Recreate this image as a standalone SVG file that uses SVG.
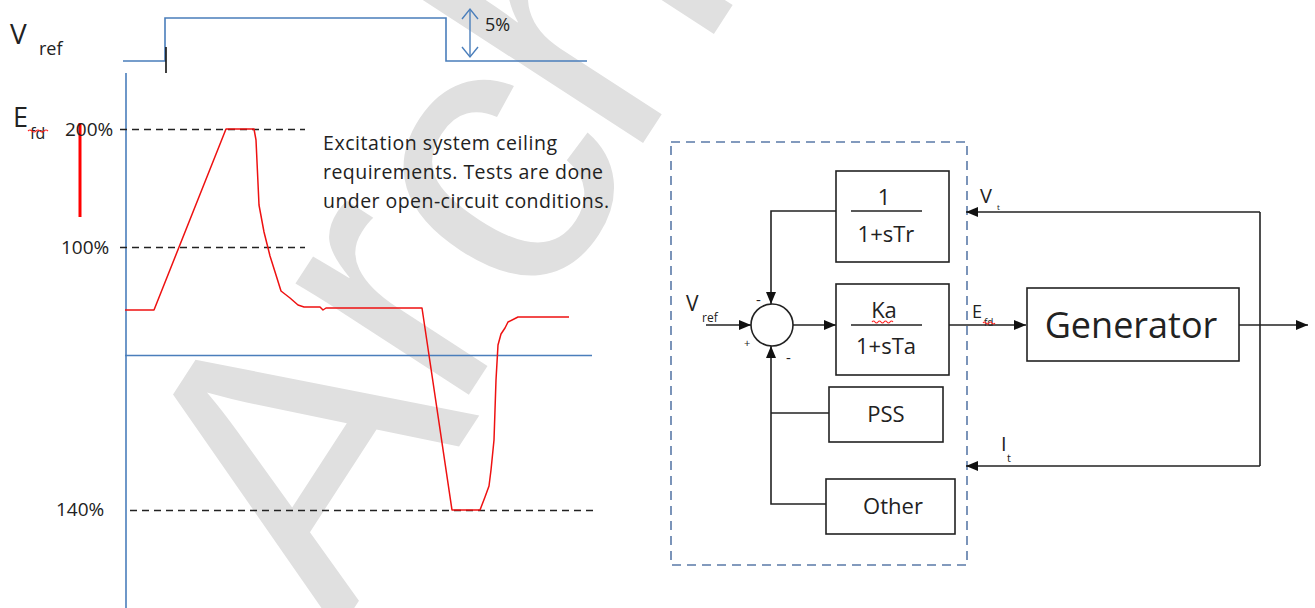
<svg xmlns="http://www.w3.org/2000/svg" width="1315" height="608" viewBox="0 0 1315 608">
<style>
  text { font-family: "Open Sans", "Liberation Sans", sans-serif; fill: #222; }
  .blue { fill: none; stroke: #4a7ebb; stroke-width: 1.6; }
  .dash { fill: none; stroke: #222; stroke-width: 1.3; stroke-dasharray: 7 5; }
  .wire { fill: none; stroke: #222; stroke-width: 1.6; }
  .box { fill: #fff; stroke: #222; stroke-width: 1.6; }
  .frac { stroke: #222; stroke-width: 1.4; }
  .squig { fill: none; stroke: #ff2020; stroke-width: 1.1; }
  .bt { font-size: 22px; }
  .note { font-size: 19.5px; }
</style>
<defs>
  <marker id="ah" viewBox="0 0 12 10" refX="12" refY="5" markerWidth="12" markerHeight="10" markerUnits="userSpaceOnUse" orient="auto">
    <path d="M0,0 L12,5 L0,10 Z" fill="#111"/>
  </marker>
</defs>

<!-- watermark -->
<text id="watermark" transform="translate(338,633) rotate(-57)" font-size="390" style="fill:#e0e0e0;font-family:'Liberation Sans',sans-serif"><tspan x="0" y="0">A</tspan><tspan x="244" y="-20">r</tspan><tspan x="371" y="-2">c</tspan><tspan x="550" y="-11">hive</tspan></text>

<!-- left chart -->
<g id="vref-plot">
  <text x="10" y="44" font-size="28">V</text>
  <text x="39" y="55" font-size="18">ref</text>
  <polyline class="blue" points="123,61 165,61 165,18 446,18 446,61 587,61"/>
  <line x1="166" y1="47" x2="166" y2="73" stroke="#111" stroke-width="1.6"/>
  <line x1="470" y1="9" x2="470" y2="57" stroke="#4a7ebb" stroke-width="1.4"/>
  <path d="M462,19 L470,9 L478,19 M462,47 L470,57 L478,47" fill="none" stroke="#4a7ebb" stroke-width="1.4"/>
  <text x="485" y="31" font-size="18">5%</text>
</g>

<g id="efd-plot">
  <text x="13" y="127" font-size="27">E</text>
  <text x="30" y="139" font-size="16">fd</text>
  <path class="squig" d="M28,131 q2,-2 4,0 t4,0 t4,0 t4,0 t4,0"/>
  <line x1="80" y1="123" x2="80" y2="217" stroke="#ff0000" stroke-width="3"/>
  <line x1="126" y1="73" x2="126" y2="608" stroke="#4a7ebb" stroke-width="1.6"/>
  <line x1="125" y1="355.5" x2="592" y2="355.5" stroke="#4a7ebb" stroke-width="1.6"/>
  <text x="65" y="136" font-size="19">200%</text>
  <text x="61" y="254" font-size="19">100%</text>
  <text x="56" y="516" font-size="19">140%</text>
  <line class="dash" x1="120" y1="129.5" x2="305" y2="129.5"/>
  <line class="dash" x1="120" y1="247.5" x2="305" y2="247.5"/>
  <line class="dash" x1="130" y1="510.5" x2="597" y2="510.5"/>
  <path d="M125,310 L154,310 L226,129 L254,129 L256,140 L259,205 L264,232 L270,256 L276,275 L281,291 L290,298 L298,305 L304,307 L320,307 L323,310 L326,308 L422,308 L452,510 L480,510 L485,497 L489,486 L491,470 L494,440 L496,380 L498,345 L501,334 L505,328 L508,322 L518,317 L569,317" fill="none" stroke="#ee1111" stroke-width="1.5" stroke-linejoin="round"/>
  <text class="note" x="323" y="150" textLength="234">Excitation system ceiling</text>
  <text class="note" x="323" y="179" textLength="280">requirements. Tests are done</text>
  <text class="note" x="323" y="208" textLength="286">under open-circuit conditions.</text>
</g>

<!-- block diagram -->
<rect id="exciter-frame" x="671" y="142" width="296" height="423" fill="none" stroke="#5a7aa8" stroke-width="1.6" stroke-dasharray="9 6"/>

<g id="connectors">
  <polyline class="wire" points="836,211 771,211 771,304" marker-end="url(#ah)"/>
  <line class="wire" x1="706" y1="325" x2="751" y2="325" marker-end="url(#ah)"/>
  <line class="wire" x1="793" y1="325" x2="836" y2="325" marker-end="url(#ah)"/>
  <polyline class="wire" points="826,504 771,504 771,346" marker-end="url(#ah)"/>
  <line class="wire" x1="771" y1="413" x2="829" y2="413"/>
  <line class="wire" x1="949" y1="325" x2="1026" y2="325" marker-end="url(#ah)"/>
  <line class="wire" x1="1239" y1="325" x2="1308" y2="325" marker-end="url(#ah)"/>
  <polyline class="wire" points="1260,212 1260,466"/>
  <line class="wire" x1="1260" y1="212" x2="966" y2="212" marker-end="url(#ah)"/>
  <line class="wire" x1="1260" y1="466" x2="966" y2="466" marker-end="url(#ah)"/>
</g>

<g id="sum">
  <circle cx="772" cy="325" r="21" fill="#fff" stroke="#222" stroke-width="1.6"/>
  <text x="756" y="305" font-size="15">-</text>
  <text x="744" y="347" font-size="11">+</text>
  <text x="786" y="363" font-size="15">-</text>
</g>

<g id="vref-in">
  <text x="686" y="311" font-size="21">V</text>
  <text x="702" y="322" font-size="12">ref</text>
</g>

<g id="tr-block">
  <rect class="box" x="836" y="171" width="113" height="91"/>
  <line class="frac" x1="851" y1="211" x2="922" y2="211"/>
  <text class="bt" x="884" y="205" text-anchor="middle">1</text>
  <text class="bt" x="886" y="242" text-anchor="middle">1+sTr</text>
</g>

<g id="ta-block">
  <rect class="box" x="836" y="284" width="113" height="91"/>
  <line class="frac" x1="851" y1="325" x2="922" y2="325"/>
  <text class="bt" x="884" y="318" text-anchor="middle">Ka</text>
  <path class="squig" d="M872,322 q1.5,-2 3,0 t3,0 t3,0 t3,0 t3,0 t3,0 t3,0"/>
  <text class="bt" x="886" y="354" text-anchor="middle">1+sTa</text>
</g>

<g id="pss">
  <rect class="box" x="829" y="387" width="114" height="55"/>
  <text class="bt" x="886" y="422" text-anchor="middle">PSS</text>
</g>

<g id="other">
  <rect class="box" x="826" y="479" width="129" height="55"/>
  <text class="bt" x="893" y="514" text-anchor="middle">Other</text>
</g>

<g id="efd-label">
  <text x="972" y="318" font-size="18">E</text>
  <text x="984" y="326" font-size="10">fd</text>
  <path class="squig" d="M983,323 q1.5,-2 3,0 t3,0 t3,0 t3,0"/>
</g>

<g id="generator">
  <rect class="box" x="1027" y="288" width="212" height="73"/>
  <text x="1131" y="338" font-size="36" text-anchor="middle">Generator</text>
</g>

<g id="vt-label">
  <text x="980" y="203" font-size="20">V</text>
  <text x="997" y="210" font-size="8">t</text>
</g>
<g id="it-label">
  <text x="1001" y="451" font-size="20">I</text>
  <text x="1007" y="462" font-size="11">t</text>
</g>
</svg>
